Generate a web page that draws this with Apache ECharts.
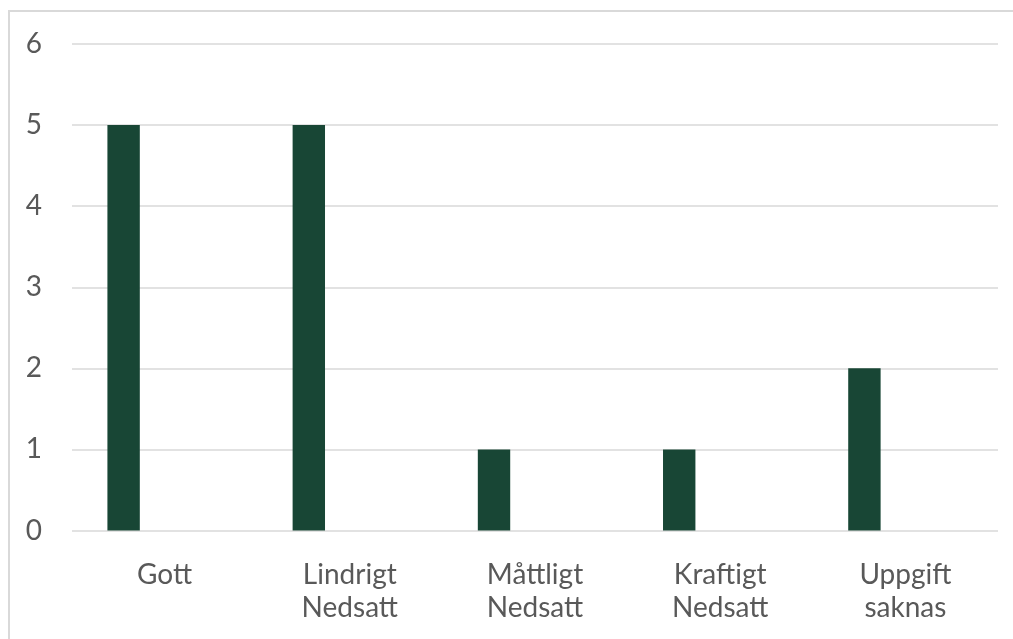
<!DOCTYPE html>
<html>
<head>
<meta charset="utf-8">
<script src="https://cdn.jsdelivr.net/npm/echarts@6/dist/echarts.min.js"></script>
<style>
  html, body { margin: 0; padding: 0; background: #ffffff; }
  #chart { width: 1013px; height: 639px; }
</style>
</head>
<body>
<div id="chart"></div>
<script>
// Kategorier på x-axeln
const categories = ['Gott', 'Lindrigt\nNedsatt', 'Måttligt\nNedsatt', 'Kraftigt\nNedsatt', 'Uppgift\nsaknas'];
// Antal per kategori
const antal = [5, 5, 1, 1, 2];
// Tom andra serie (håller plats bredvid staplarna)
const tomSerie = [null, null, null, null, null];
// Värdeaxelns skala
const yMin = 0, yMax = 6, yStep = 1;

const textColor = '#595959';
const gridColor = '#d9d9d9';
const fontFamily = 'Lato, "Liberation Sans", sans-serif';

const chart = echarts.init(document.getElementById('chart'), null, { renderer: 'canvas' });
chart.setOption({
  backgroundColor: '#ffffff',
  animation: false,
  graphic: [{
    type: 'rect',
    shape: { x: 9, y: 11, width: 1100, height: 700 },
    style: { fill: 'none', stroke: gridColor, lineWidth: 2 },
    silent: true
  }],
  grid: { left: 72, right: 15, top: 44, bottom: 108.5, containLabel: false },
  xAxis: {
    type: 'category',
    data: categories,
    axisLine: { show: false },
    axisTick: { show: false },
    axisLabel: {
      color: textColor, fontFamily: fontFamily, fontSize: 28,
      lineHeight: 33, margin: 28, interval: 0
    }
  },
  yAxis: {
    type: 'value',
    min: yMin, max: yMax, interval: yStep,
    axisLine: { show: false },
    axisTick: { show: false },
    splitLine: { lineStyle: { color: gridColor, width: 1.5 } },
    axisLabel: { color: textColor, fontFamily: fontFamily, fontSize: 28, margin: 30 }
  },
  series: [
    {
      type: 'bar', name: 'Antal', data: antal,
      barWidth: 32.4, barGap: '153%',
      itemStyle: { color: '#184635' }
    },
    {
      type: 'bar', name: 'Serie 2', data: tomSerie,
      barWidth: 32.4
    }
  ]
});
</script>
</body>
</html>
